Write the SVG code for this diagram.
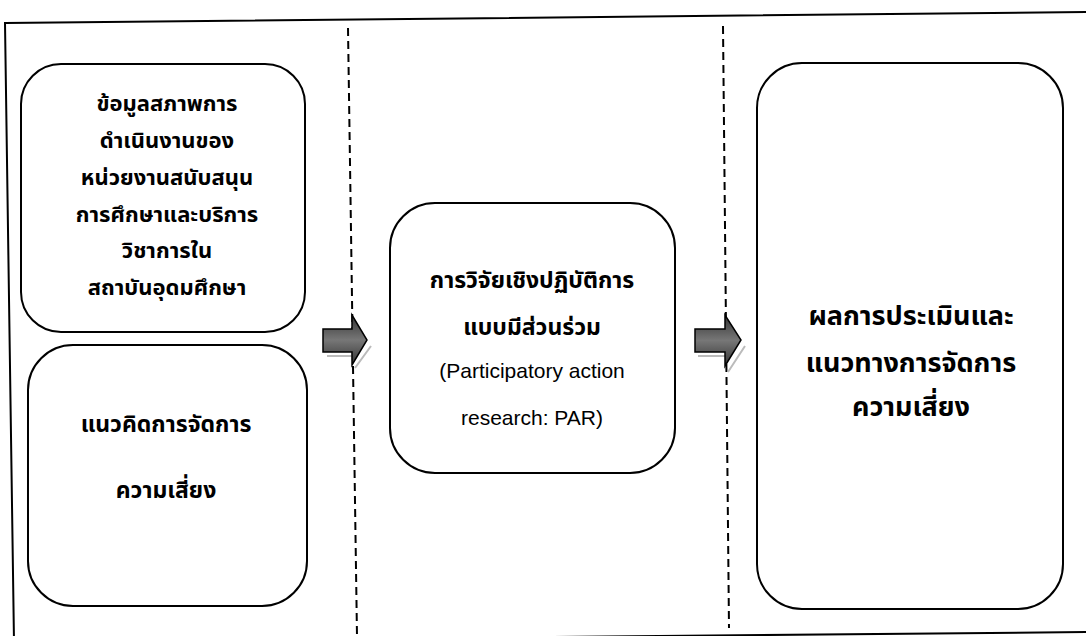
<svg xmlns="http://www.w3.org/2000/svg" width="1086" height="636" viewBox="0 0 1086 636">
<style>
.box{fill:#fff;stroke:#000;stroke-width:2}
.th{font-family:"Noto Sans Thai","Noto Sans","Liberation Sans",sans-serif;font-weight:bold;fill:#000;text-anchor:middle}
.en{font-family:"Liberation Sans",Arial,sans-serif;font-size:21px;fill:#000;text-anchor:middle}
.dash{fill:none;stroke:#000;stroke-width:2;stroke-dasharray:8 5}
.arrow{fill:url(#g);stroke:#000;stroke-width:1.5}
.shadow{fill:none;stroke:#bbb;stroke-width:2}
</style>
<defs>
<linearGradient id="g" x1="0" y1="0" x2="0" y2="1">
<stop offset="0" stop-color="#333"/>
<stop offset="0.5" stop-color="#777"/>
<stop offset="1" stop-color="#333"/>
</linearGradient>
</defs>
<rect width="1086" height="636" fill="#fff"/>
<path d="M5 23 L1092 12 L1092 632 L14 642 Z" fill="none" stroke="#000" stroke-width="2"/>
<g id="connectors">
<path class="dash" d="M348 28 L357 636"/>
<path class="dash" d="M723 26 L729 628"/>
<path class="shadow" d="M327 356 L354 356 M355 368 L371 346"/>
<path class="arrow" d="M323 329 L352 329 L352 315 L367 340 L352 365 L352 352 L323 352 Z"/>
<path class="shadow" d="M698 356 L727 356 M728 372 L745 346"/>
<path class="arrow" d="M695 329 L725 329 L725 315 L741 340 L725 366 L725 352 L695 352 Z"/>
</g>
<g id="node1">
<rect class="box" x="21" y="64" width="284" height="268" rx="40"/>
<text class="th" font-size="22"><tspan x="167" y="111">ข้อมูลสภาพการ</tspan><tspan x="167" y="148">ดำเนินงานของ</tspan><tspan x="167" y="185">หน่วยงานสนับสนุน</tspan><tspan x="167" y="222">การศึกษาและบริการ</tspan><tspan x="167" y="258">วิชาการใน</tspan><tspan x="167" y="295">สถาบันอุดมศึกษา</tspan></text>
</g>
<g id="node2">
<rect class="box" x="28" y="345" width="279" height="261" rx="45"/>
<text class="th" font-size="23"><tspan x="166" y="432">แนวคิดการจัดการ</tspan><tspan x="166" y="498">ความเสี่ยง</tspan></text>
</g>
<g id="node3">
<rect class="box" x="390" y="203" width="285" height="270" rx="45"/>
<text class="th" font-size="23"><tspan x="532" y="288">การวิจัยเชิงปฏิบัติการ</tspan><tspan x="532" y="335">แบบมีส่วนร่วม</tspan></text>
<text class="en"><tspan x="532" y="378">(Participatory action</tspan><tspan x="532" y="425">research: PAR)</tspan></text>
</g>
<g id="node4">
<rect class="box" x="757" y="63" width="306" height="546" rx="45"/>
<text class="th" font-size="27"><tspan x="911" y="325">ผลการประเมินและ</tspan><tspan x="911" y="372">แนวทางการจัดการ</tspan><tspan x="911" y="416">ความเสี่ยง</tspan></text>
</g>
</svg>
